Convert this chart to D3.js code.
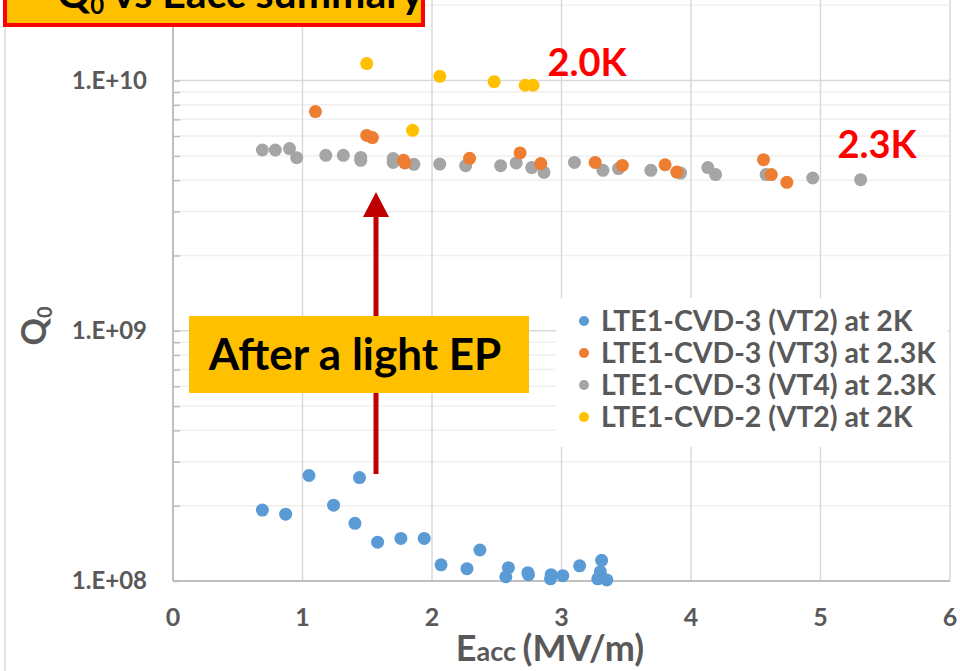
<!DOCTYPE html>
<html>
<head>
<meta charset="utf-8">
<script src="https://cdn.jsdelivr.net/npm/d3@7"></script>
<style>
  body { margin: 0; background: #fff; }
  svg { display: block; font-family: Lato, "Open Sans", sans-serif; }
</style>
</head>
<body>
<svg id="chart" width="960" height="671"></svg>
<script>
// series: [Eacc (MV/m), Q0]
var seriesNames = ["LTE1-CVD-3 (VT2) at 2K", "LTE1-CVD-3 (VT3) at 2.3K",
                   "LTE1-CVD-3 (VT4) at 2.3K", "LTE1-CVD-2 (VT2) at 2K"];
var seriesColors = ["#5b9bd5", "#ed7d31", "#a5a5a5", "#ffc000"];

var vt2_2K = [
  [0.69, 1.92e8], [0.87, 1.85e8], [1.05, 2.64e8], [1.24, 2.01e8], [1.405, 1.70e8],
  [1.44, 2.59e8], [1.58, 1.43e8], [1.76, 1.48e8], [1.94, 1.48e8], [2.07, 1.16e8],
  [2.27, 1.12e8], [2.37, 1.33e8], [2.59, 1.13e8], [2.57, 1.04e8], [2.74, 1.08e8],
  [2.745, 1.06e8], [2.92, 1.06e8], [2.915, 1.02e8], [3.01, 1.05e8], [3.14, 1.15e8],
  [3.31, 1.21e8], [3.30, 1.09e8], [3.28, 1.02e8], [3.35, 1.01e8]
];
var vt3_23K = [
  [1.10, 7.52e9], [1.496, 6.04e9], [1.54, 5.92e9], [1.78, 4.80e9], [1.79, 4.69e9],
  [2.29, 4.89e9], [2.68, 5.14e9], [2.84, 4.66e9], [3.26, 4.71e9], [3.47, 4.58e9],
  [3.80, 4.61e9], [3.89, 4.31e9], [4.56, 4.83e9], [4.62, 4.21e9], [4.74, 3.92e9]
];
var vt4_23K = [
  [0.69, 5.28e9], [0.79, 5.28e9], [0.90, 5.35e9], [0.955, 4.92e9], [1.18, 5.03e9],
  [1.315, 5.03e9], [1.45, 4.93e9], [1.45, 4.80e9], [1.70, 4.88e9], [1.70, 4.71e9],
  [1.86, 4.63e9], [2.06, 4.64e9], [2.26, 4.57e9], [2.53, 4.57e9], [2.65, 4.69e9],
  [2.77, 4.49e9], [2.865, 4.30e9], [3.10, 4.71e9], [3.32, 4.38e9], [3.44, 4.45e9],
  [3.69, 4.38e9], [3.92, 4.27e9], [4.13, 4.49e9], [4.19, 4.21e9], [4.58, 4.21e9],
  [4.94, 4.08e9], [5.31, 4.02e9]
];
var cvd2_2K = [
  [1.496, 1.17e10], [2.06, 1.04e10], [2.48, 9.9e9], [2.72, 9.58e9], [2.78, 9.58e9],
  [1.85, 6.33e9]
];
var allSeries = [vt2_2K, vt3_23K, vt4_23K, cvd2_2K];
// draw order: gray behind orange, yellow, blue
var drawOrder = [2, 1, 3, 0];

var xTicks = [0, 1, 2, 3, 4, 5, 6];
var yMajor = [1e8, 1e9, 1e10];
var yTickLabels = ["1.E+08", "1.E+09", "1.E+10"];
var yMinor = [];
[1e8, 1e9, 1e10].forEach(function(d) {
  for (var k = 2; k <= 9; k++) if (k * d <= 2.1e10) yMinor.push(k * d);
});

var svg = d3.select("#chart");
var x = d3.scaleLinear().domain([0, 6]).range([173, 950]);
var y = d3.scaleLog().domain([1e8, 2.1e10]).range([581, 0]);

// slide frame line
svg.append("line").attr("x1", 5).attr("x2", 5).attr("y1", 20).attr("y2", 671)
  .attr("stroke", "#d9d9d9").attr("stroke-width", 1.5);

// grid
svg.append("g").selectAll("line").data(yMinor).enter().append("line")
  .attr("x1", x(0)).attr("x2", x(6))
  .attr("y1", d => y(d)).attr("y2", d => y(d))
  .attr("stroke", "#efefef").attr("stroke-width", 1.5);
svg.append("g").selectAll("line").data(yMajor).enter().append("line")
  .attr("x1", x(0)).attr("x2", x(6))
  .attr("y1", d => y(d)).attr("y2", d => y(d))
  .attr("stroke", "#d9d9d9").attr("stroke-width", 1.5);
svg.append("g").selectAll("line").data(xTicks.slice(1)).enter().append("line")
  .attr("x1", d => x(d)).attr("x2", d => x(d))
  .attr("y1", 0).attr("y2", y(1e8))
  .attr("stroke", "#d9d9d9").attr("stroke-width", 1.5);

// axes
var yAxis = d3.axisRight(y).tickValues(yMajor.concat(yMinor)).tickSize(7).tickFormat("");
var gy = svg.append("g").attr("transform", "translate(" + x(0) + ",0)").call(yAxis);
gy.select(".domain").remove();
gy.selectAll(".tick line").attr("stroke", "#bfbfbf").attr("stroke-width", 1.5);
svg.append("line").attr("x1", x(0)).attr("x2", x(0)).attr("y1", 0).attr("y2", y(1e8))
  .attr("stroke", "#bfbfbf").attr("stroke-width", 2);
svg.append("line").attr("x1", x(0)).attr("x2", x(6)).attr("y1", y(1e8)).attr("y2", y(1e8))
  .attr("stroke", "#bfbfbf").attr("stroke-width", 2);

svg.append("g").selectAll("text").data(yMajor).enter().append("text")
  .attr("x", 147).attr("y", d => y(d)).attr("dy", "0.35em")
  .attr("text-anchor", "end").attr("font-size", 24).attr("font-weight", "bold")
  .attr("fill", "#595959").text((d, i) => yTickLabels[i]);
svg.append("g").selectAll("text").data(xTicks).enter().append("text")
  .attr("x", d => x(d)).attr("y", 626)
  .attr("text-anchor", "middle").attr("font-size", 25).attr("font-weight", "bold")
  .attr("fill", "#595959").text(d => d);

// axis titles
var ql = svg.append("text").attr("transform", "translate(46,326) rotate(-90)")
  .attr("text-anchor", "middle").attr("font-size", 34).attr("font-weight", "bold")
  .attr("fill", "#595959");
ql.append("tspan").text("Q");
ql.append("tspan").attr("font-size", 20).attr("dy", 6).text("0");

var xl = svg.append("text").attr("x", 550).attr("y", 661)
  .attr("text-anchor", "middle").attr("font-weight", "bold").attr("fill", "#595959");
xl.append("tspan").attr("font-size", 36).text("E");
xl.append("tspan").attr("font-size", 27).text("acc ");
xl.append("tspan").attr("font-size", 36).text("(MV/m)");

// arrow (behind the label box)
var ax = 376;
svg.append("line").attr("x1", ax).attr("x2", ax).attr("y1", 474).attr("y2", 214)
  .attr("stroke", "#c00000").attr("stroke-width", 5);
svg.append("path")
  .attr("d", "M" + ax + ",192 L" + (ax - 13) + ",217 L" + (ax + 13) + ",217 Z")
  .attr("fill", "#c00000");

// points
drawOrder.forEach(function(i) {
  svg.append("g").selectAll("circle").data(allSeries[i]).enter().append("circle")
    .attr("cx", d => x(d[0])).attr("cy", d => y(d[1])).attr("r", 6.5)
    .attr("fill", seriesColors[i]);
});

// annotations
svg.append("text").attr("x", 587).attr("y", 76).attr("text-anchor", "middle")
  .attr("font-size", 38).attr("font-weight", "bold").attr("fill", "#ff0000").text("2.0K");
svg.append("text").attr("x", 877).attr("y", 158).attr("text-anchor", "middle")
  .attr("font-size", 38).attr("font-weight", "bold").attr("fill", "#ff0000").text("2.3K");

// legend
var lg = svg.append("g");
lg.append("rect").attr("x", 556).attr("y", 298).attr("width", 392).attr("height", 149).attr("fill", "#fff");
seriesNames.forEach(function(name, i) {
  var ly = 321 + i * 32;
  lg.append("circle").attr("cx", 584).attr("cy", ly).attr("r", 5).attr("fill", seriesColors[i]);
  lg.append("text").attr("x", 601).attr("y", ly).attr("dy", "0.36em")
    .attr("font-size", 28.5).attr("font-weight", "bold").attr("fill", "#595959").text(name);
});

// label box
svg.append("rect").attr("x", 189).attr("y", 316).attr("width", 340).attr("height", 77).attr("fill", "#ffc000");
svg.append("text").attr("x", 355).attr("y", 370).attr("text-anchor", "middle")
  .attr("font-size", 44).attr("font-weight", "bold").attr("fill", "#000").text("After a light EP");

// title box, cut off at top
svg.append("rect").attr("x", 5).attr("y", -40).attr("width", 418).attr("height", 65)
  .attr("fill", "#ffc000").attr("stroke", "#ff0000").attr("stroke-width", 4);
var tt = svg.append("text").attr("x", 57).attr("y", 8).attr("font-size", 41)
  .attr("font-weight", "bold").attr("fill", "#000");
tt.append("tspan").text("Q");
tt.append("tspan").attr("font-size", 24).attr("dy", 6).text("0");
tt.append("tspan").attr("dy", -6).text(" vs Eacc summary");
</script>
</body>
</html>
